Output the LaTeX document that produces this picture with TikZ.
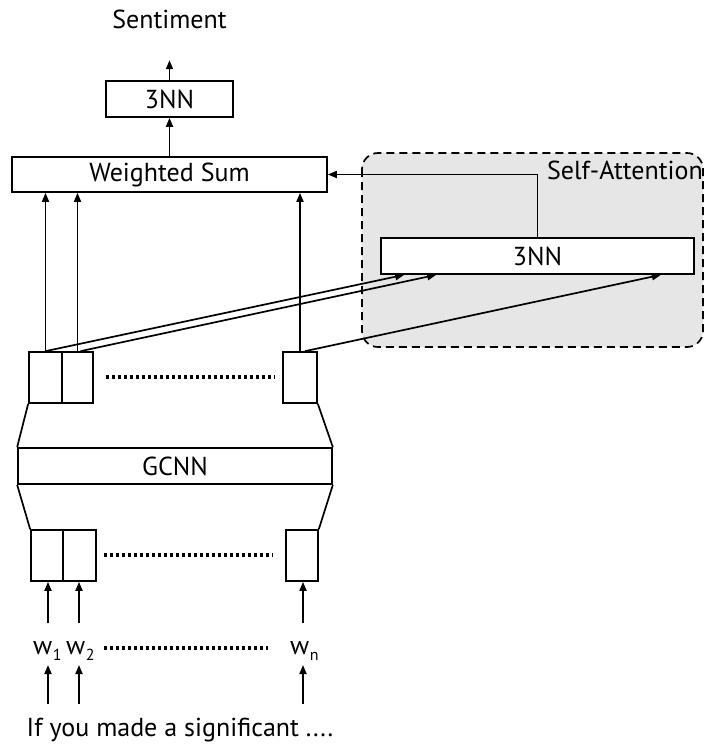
\documentclass[tikz,border=0pt]{standalone}
\usepackage{fontspec}
\setmainfont{PT Sans}
\usetikzlibrary{arrows.meta,calc}
\definecolor{sagray}{HTML}{E6E6E6}
\begin{document}
\begin{tikzpicture}[x=1pt,y=-1pt,
  box/.style={draw,line width=1.7pt,rectangle,inner sep=0pt,fill=white},
  arr/.style={line width=1.7pt,-{Triangle[length=9pt,width=7pt]}},
  ln/.style={line width=1.7pt},
  dots/.style={line width=4.5pt,dash pattern=on 3pt off 3pt},
  lbl/.style={inner sep=0pt,font=\fontsize{26}{30}\selectfont},
  wl/.style={lbl,anchor=base west}]
\useasboundingbox (0,0) rectangle (704,745);
% self-attention region
\draw[line width=1.7pt,dash pattern=on 8pt off 5pt,fill=sagray,rounded corners=16pt] (362,153) rectangle (703,347);
\node[lbl,anchor=east] (salbl) at (703,170) {Self-Attention};
% boxes
\node[box,minimum width=127pt,minimum height=36pt,lbl] (top) at (169.5,99) {3NN};
\node[box,minimum width=315pt,minimum height=35pt,lbl] (ws) at (169.5,174.5) {Weighted Sum};
\node[box,minimum width=313pt,minimum height=36pt,lbl] (att) at (537.5,256) {3NN};
\node[lbl] (sent) at (169.5,19) {Sentiment};
% upper boxes
\node[box,minimum width=33pt,minimum height=51pt] (u1) at (45.5,377.5) {};
\node[box,minimum width=31pt,minimum height=51pt] (u2) at (77.5,377.5) {};
\node[box,minimum width=34pt,minimum height=51pt] (un) at (300,377.5) {};
% GCNN
\node[box,minimum width=314pt,minimum height=36pt,lbl] (gcnn) at (175,466) {GCNN};
% lower boxes
\node[box,minimum width=32pt,minimum height=51pt] (l1) at (47,555.5) {};
\node[box,minimum width=33pt,minimum height=51pt] (l2) at (79.5,555.5) {};
\node[box,minimum width=32pt,minimum height=51pt] (ln) at (302,555.5) {};
% trapezoid sides
\draw[ln] (u1.south west) -- (gcnn.north west);
\draw[ln] (un.south east) -- (gcnn.north east);
\draw[ln] (gcnn.south west) -- (l1.north west);
\draw[ln] (gcnn.south east) -- (ln.north east);
% dotted
\coordinate (d1a) at (106,377); \coordinate (d1b) at (275,377);
\draw[dots] (d1a) -- (d1b);
\coordinate (d2a) at (104,555); \coordinate (d2b) at (273,555);
\draw[dots] (d2a) -- (d2b);
% words
\node[wl] (w1) at (33,654) {w\kern0.5pt\raisebox{-0.5ex}{\fontsize{16}{18}\selectfont 1}};
\node[wl] (w2) at (66,654) {w\kern0.5pt\raisebox{-0.5ex}{\fontsize{16}{18}\selectfont 2}};
\node[wl] (wn) at (290,654) {w\kern0.5pt\raisebox{-0.5ex}{\fontsize{16}{18}\selectfont n}};
\coordinate (d3a) at (104,648); \coordinate (d3b) at (268,648);
\draw[dots] (d3a) -- (d3b);
\node[lbl] (sentence) at (180,730) {If you made a significant ....};
% arrows bottom
\coordinate (s1) at (48,704); \coordinate (s2) at (79,704); \coordinate (sn) at (303,704);
\coordinate (t1) at (48,665); \coordinate (t2) at (79,665); \coordinate (tn) at (303,665);
\draw[arr] (s1) -- (t1);
\draw[arr] (s2) -- (t2);
\draw[arr] (sn) -- (tn);
\coordinate (r1) at (48,623); \coordinate (r2) at (79,623); \coordinate (rn) at (303,623);
\draw[arr] (r1) -- (r1 |- l1.south);
\draw[arr] (r2) -- (r2 |- l2.south);
\draw[arr] (rn) -- (rn |- ln.south);
% arrows into weighted sum
\draw[arr] (u1.north) -- (u1.north |- ws.south);
\draw[arr] (u2.north) -- (u2.north |- ws.south);
\draw[arr] (un.north) -- (un.north |- ws.south);
% arrows into attention
\draw[arr] (u1.north) -- ($(att.south west)+(24,0)$);
\draw[arr] ([xshift=3pt]u2.north) -- ($(att.south west)+(56,0)$);
\draw[arr] ([xshift=5pt]un.north) -- ($(att.south east)+(-34,0)$);
% attention to weighted sum
\draw[arr] (att.north) |- (ws.east);
% top
\draw[arr] (ws.north) -- (top.south);
\draw[arr] (top.north) -- ([yshift=20pt]top.north);
\end{tikzpicture}
\end{document}
